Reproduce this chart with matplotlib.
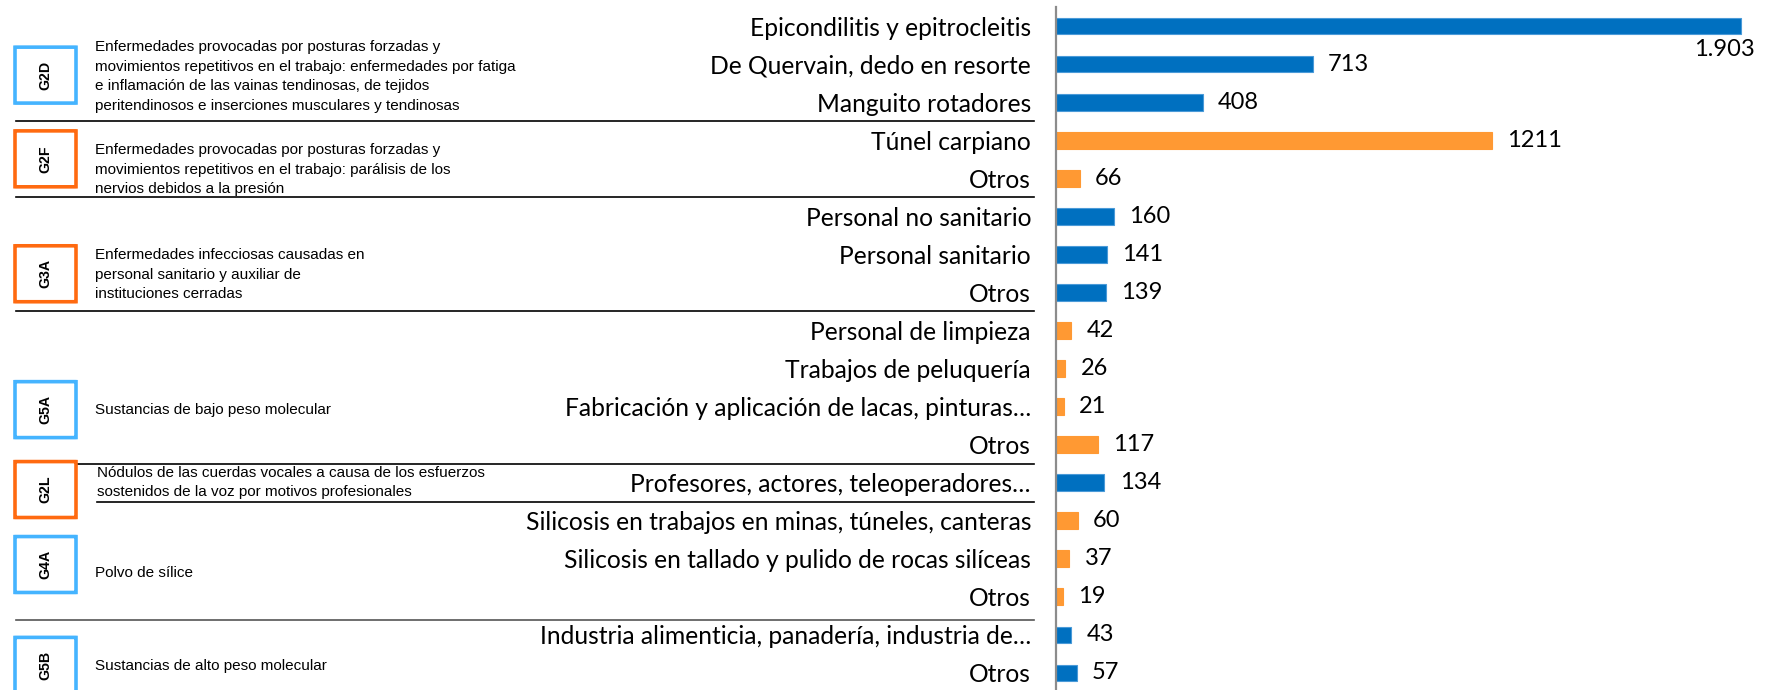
import matplotlib
matplotlib.use("Agg")
import matplotlib.pyplot as plt
from matplotlib.transforms import blended_transform_factory
from matplotlib.patches import FancyBboxPatch
from matplotlib.lines import Line2D

# ---------------- data ----------------
categories = [
    "Epicondilitis y epitrocleitis",
    "De Quervain, dedo en resorte",
    "Manguito rotadores",
    "Túnel carpiano",
    "Otros",
    "Personal no sanitario",
    "Personal sanitario",
    "Otros",
    "Personal de limpieza",
    "Trabajos de peluquería",
    "Fabricación y aplicación de lacas, pinturas…",
    "Otros",
    "Profesores, actores, teleoperadores…",
    "Silicosis en trabajos en minas, túneles, canteras",
    "Silicosis en tallado y pulido de rocas silíceas",
    "Otros",
    "Industria alimenticia, panadería, industria de…",
    "Otros",
]
values = [1903, 713, 408, 1211, 66, 160, 141, 139, 42, 26, 21, 117, 134, 60, 37, 19, 43, 57]
value_labels = ["1.903", "713", "408", "1211", "66", "160", "141", "139", "42", "26",
                "21", "117", "134", "60", "37", "19", "43", "57"]
bar_series = ["b", "b", "b", "o", "o", "b", "b", "b", "o", "o", "o", "o", "b", "o", "o", "o", "b", "b"]

group_codes = ["G2D", "G2F", "G3A", "G5A", "G2L", "G4A", "G5B"]
group_desc = [
    "Enfermedades provocadas por posturas forzadas y\nmovimientos repetitivos en el trabajo: enfermedades por fatiga\ne inflamación de las vainas tendinosas, de tejidos\nperitendinosos e inserciones musculares y tendinosas",
    "Enfermedades provocadas por posturas forzadas y\nmovimientos repetitivos en el trabajo: parálisis de los\nnervios debidos a la presión",
    "Enfermedades infecciosas causadas en\npersonal sanitario y auxiliar de\ninstituciones cerradas",
    "Sustancias de bajo peso molecular",
    "Nódulos de las cuerdas vocales a causa de los esfuerzos\nsostenidos de la voz por motivos profesionales",
    "Polvo de sílice",
    "Sustancias de alto peso molecular",
]
group_box_color = ["lb", "or", "or", "lb", "or", "lb", "lb"]

# ---------------- style ----------------
BAR_COLORS = {"b": "#0070C0", "o": "#FF9933"}
BAR_EDGES = {"b": "#4A9AD8", "o": "#FF9933"}
BOX_COLORS = {"lb": "#45B4FF", "or": "#FF6A10"}

W, H = 1771, 690
fig = plt.figure(figsize=(W / 100, H / 100), dpi=100)

ax_left = 1056 / W
ax = fig.add_axes([ax_left, -2 / H, 0.41, 685 / H])
n = len(values)
ypos = list(range(n))
ax.barh(ypos, values, height=0.44,
        color=[BAR_COLORS[s] for s in bar_series],
        edgecolor=[BAR_EDGES[s] for s in bar_series], linewidth=0.8)
ax.set_xlim(0, 0.41 * W / 0.36)
ax.set_ylim(n - 0.5, -0.5)

label_font = "Lato"
ax.set_yticks(ypos)
ax.set_yticklabels(categories, fontsize=17.7, family=label_font, color="#000000")
ax.tick_params(axis="y", length=0, pad=18)
ax.set_xticks([])
for s in ["top", "right", "bottom"]:
    ax.spines[s].set_visible(False)
ax.spines["left"].set_color("#8C8C8C")
ax.spines["left"].set_linewidth(1.6)

for i, (v, lab) in enumerate(zip(values, value_labels)):
    if i == 0:
        ax.annotate(lab, xy=(v, i), xytext=(-12, -9), textcoords="offset points",
                    ha="center", va="top", fontsize=17, family=label_font)
    else:
        ax.annotate(lab, xy=(v, i), xytext=(11, 0), textcoords="offset points",
                    ha="left", va="center", fontsize=17, family=label_font)

# ------------- left panel (groups) -------------
tr = blended_transform_factory(fig.transFigure, ax.transData)

box_centers = [1.29, 3.49, 6.51, 10.08, 12.18, 14.15, 16.8]
text_centers = [1.33, 3.78, 6.54, 10.1, 12.0, 14.36, 16.82]
text_x = [95, 95, 95, 95, 97, 95, 95]

box_w_px, box_h_data = 61, 1.47
for code, desc, bc, yc, yt, tx in zip(group_codes, group_desc, group_box_color,
                                      box_centers, text_centers, text_x):
    x0 = 15 / W
    bw = box_w_px / W
    box = FancyBboxPatch((x0, yc - box_h_data / 2), bw, box_h_data,
                         boxstyle="round,pad=0,rounding_size=0.0008",
                         transform=tr, facecolor="white",
                         edgecolor=BOX_COLORS[bc], linewidth=2.6,
                         clip_on=False, zorder=3)
    fig.add_artist(box)
    fig.text(x0 + bw / 2, yc, code, transform=tr, rotation=90, ha="center", va="center",
             fontsize=10.2, fontweight="bold", family="Liberation Sans", zorder=4)
    fig.text(tx / W, yt, desc, transform=tr, ha="left", va="center",
             fontsize=11.0, family="Liberation Sans", linespacing=1.5)

# separators between groups
sep_y = [2.5, 4.5, 7.5, 11.5, 12.5, 15.6]
sep_x0 = [16, 16, 16, 16, 97, 16]
sep_col = ["#000000"] * 5 + ["#555555"]
for y, x0, c in zip(sep_y, sep_x0, sep_col):
    fig.add_artist(Line2D([x0 / W, 1034 / W], [y, y], transform=tr, color=c, lw=1.2))

fig.savefig("out.png", dpi=100, facecolor="white")
